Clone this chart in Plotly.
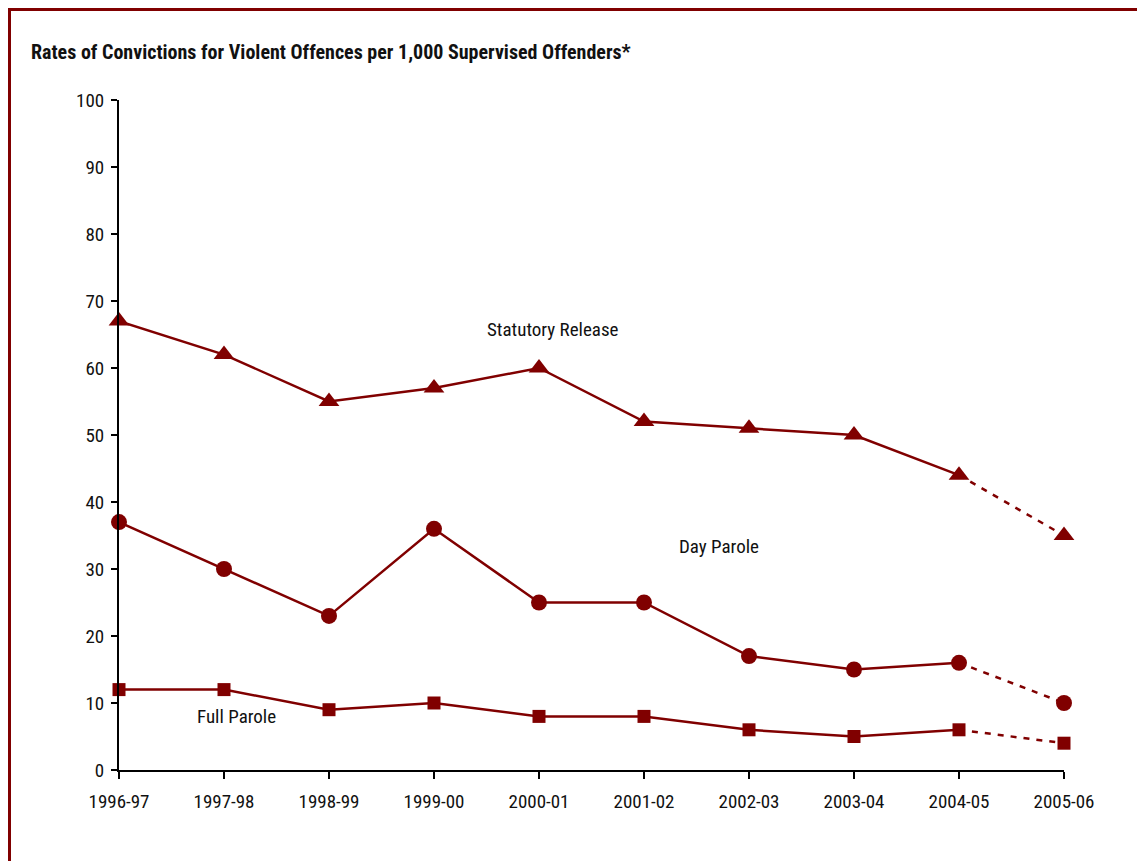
import plotly.graph_objects as go

years = ["1996-97", "1997-98", "1998-99", "1999-00", "2000-01",
         "2001-02", "2002-03", "2003-04", "2004-05", "2005-06"]
statutory_release = [67, 62, 55, 57, 60, 52, 51, 50, 44, 35]
day_parole = [37, 30, 23, 36, 25, 25, 17, 15, 16, 10]
full_parole = [12, 12, 9, 10, 8, 8, 6, 5, 6, 4]
y_ticks = [0, 10, 20, 30, 40, 50, 60, 70, 80, 90, 100]

COLOR = "#800000"
FONT = "Liberation Sans Narrow, Arial Narrow, Roboto Condensed, Liberation Sans, sans-serif"

# page offset of the figure (default body margin)
OFF = 8
W, H = 1145 - OFF, 861 - OFF
L, T = 119 - OFF, 100 - OFF
PW, PH = 945, 670
R = W - L - PW
B = H - T - PH


def px(xpage):
    return (xpage - OFF - L) / PW


def py(ypage):
    return (T + PH - (ypage - OFF)) / PH


xs = list(range(len(years)))
fig = go.Figure()

series = [
    (statutory_release, "triangle-up", 18),
    (day_parole, "circle", 16),
    (full_parole, "square", 13),
]
for vals, sym, size in series:
    fig.add_trace(go.Scatter(
        x=xs[:-1], y=vals[:-1], mode="lines+markers",
        line=dict(color=COLOR, width=2.5),
        marker=dict(symbol=sym, size=size, color=COLOR),
        cliponaxis=False, showlegend=False, hoverinfo="skip"))
    fig.add_trace(go.Scatter(
        x=xs[-2:], y=vals[-2:], mode="lines",
        line=dict(color=COLOR, width=2.5, dash="6px,7px"),
        cliponaxis=False, showlegend=False, hoverinfo="skip"))
    fig.add_trace(go.Scatter(
        x=xs[-1:], y=vals[-1:], mode="markers",
        marker=dict(symbol=sym, size=size, color=COLOR),
        cliponaxis=False, showlegend=False, hoverinfo="skip"))

labels = [("Statutory Release", 4.13, 65.7),
          ("Day Parole", 5.71, 33.3),
          ("Full Parole", 1.12, 8.0)]
for text, x, y in labels:
    fig.add_annotation(x=x, y=y, text=text, showarrow=False,
                       font=dict(family=FONT, size=19, color="#111111"))

fig.add_annotation(xref="paper", yref="paper", x=px(29), y=py(52),
                   xanchor="left", yanchor="middle", showarrow=False,
                   text="<b>Rates of Convictions for Violent Offences per 1,000 Supervised Offenders*</b>",
                   font=dict(family=FONT, size=20, color="#111111"))

# frame border
fig.add_shape(type="rect", xref="paper", yref="paper",
              x0=px(OFF + 1.5), y0=py(1000),
              x1=px(1300), y1=py(OFF + 1.5),
              line=dict(color=COLOR, width=3), layer="below")

fig.update_layout(
    width=W, height=H,
    margin=dict(l=L, r=R, t=T, b=B),
    paper_bgcolor="white", plot_bgcolor="white",
    font=dict(family=FONT, size=19, color="#111111"),
    xaxis=dict(range=[0, 9], tickmode="array", tickvals=xs, ticktext=years,
               showgrid=False, zeroline=False, showline=True, linecolor="black",
               linewidth=2, ticks="outside", ticklen=7, tickwidth=2, tickcolor="black",
               ticklabelstandoff=6, fixedrange=True),
    yaxis=dict(range=[0, 100], tickmode="array", tickvals=y_ticks,
               showgrid=False, zeroline=False, showline=True, linecolor="black",
               linewidth=2, ticks="outside", ticklen=6, tickwidth=2, tickcolor="black",
               ticklabelstandoff=3, fixedrange=True),
)

fig.write_html("out.html")
